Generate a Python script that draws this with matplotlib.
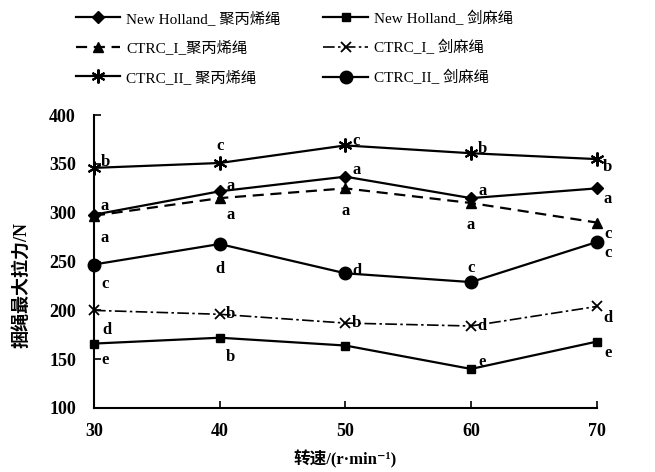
import matplotlib
matplotlib.use('Agg')
from matplotlib import pyplot as plt

# dados
rotacao = [30, 40, 50, 60, 70]

nh_pp = [298, 322, 337, 315, 325]
ctrc1_pp = [297, 315, 325, 310, 290]
ctrc2_pp = [346, 351, 369, 361, 355]
nh_sisal = [166, 172, 164, 140, 168]
ctrc1_sisal = [200, 196, 187, 184, 204]
ctrc2_sisal = [247, 268, 238, 229, 270]

letras_nh_pp = ['a', 'a', 'a', 'a', 'a']
letras_ctrc1_pp = ['a', 'a', 'a', 'a', 'c']
letras_ctrc2_pp = ['b', 'c', 'c', 'b', 'b']
letras_nh_sisal = ['e', 'b', '', 'e', 'e']
letras_ctrc1_sisal = ['d', 'b', 'b', 'd', 'd']
letras_ctrc2_sisal = ['c', 'd', 'd', 'c', 'c']

rotulos = ['New Holland_ 聚丙烯绳', 'CTRC_I_聚丙烯绳', 'CTRC_II_ 聚丙烯绳',
           'New Holland_ 剑麻绳', 'CTRC_I_ 剑麻绳', 'CTRC_II_ 剑麻绳']

plt.rcParams['font.family'] = ['Liberation Serif', 'Noto Sans CJK SC', 'DejaVu Serif']


def main():

	fig = plt.figure(figsize=(6.55, 4.72), dpi=100)
	ax = fig.add_axes([0.1435, 0.1356, 0.7675, 0.6204])

	l1, = ax.plot(rotacao, nh_pp, color='black', lw=1.6, marker='D', ms=6, clip_on=False)
	l2, = ax.plot(rotacao, ctrc1_pp, color='black', lw=1.6, ls=(0, (5, 3)), marker='^', ms=7, clip_on=False)
	l3, = ax.plot(rotacao, ctrc2_pp, color='black', lw=1.6, marker=(6, 2, 0), ms=10, mew=1.5, clip_on=False)
	l4, = ax.plot(rotacao, nh_sisal, color='black', lw=1.6, marker='s', ms=6, clip_on=False)
	l5, = ax.plot(rotacao, ctrc1_sisal, color='black', lw=1.2, ls=(0, (7, 2, 1.5, 2)), marker='x', ms=7, mew=1.3, clip_on=False)
	l6, = ax.plot(rotacao, ctrc2_sisal, color='black', lw=1.6, marker='o', ms=9, clip_on=False)

	# deslocamento das letras (pontos)
	desl_nh_pp = [(8, 6), (8, 4), (8, 5), (8, 5), (8, -8)]
	desl_ctrc1_pp = [(8, -16), (8, -12), (0, -16), (0, -16), (8, -8)]
	desl_ctrc2_pp = [(8, 4), (0, 12), (8, 3), (8, 3), (8, -6)]
	desl_nh_sisal = [(8, -12), (8, -14), (0, 0), (8, 5), (8, -8)]
	desl_ctrc1_sisal = [(9, -14), (8, 0), (8, 0), (8, 0), (8, -8)]
	desl_ctrc2_sisal = [(8, -14), (0, -18), (8, 2), (0, 10), (8, -8)]

	series = [
		(nh_pp, letras_nh_pp, desl_nh_pp),
		(ctrc1_pp, letras_ctrc1_pp, desl_ctrc1_pp),
		(ctrc2_pp, letras_ctrc2_pp, desl_ctrc2_pp),
		(nh_sisal, letras_nh_sisal, desl_nh_sisal),
		(ctrc1_sisal, letras_ctrc1_sisal, desl_ctrc1_sisal),
		(ctrc2_sisal, letras_ctrc2_sisal, desl_ctrc2_sisal),
	]

	for valores, letras, desl in series:
		for x, y, t, d in zip(rotacao, valores, letras, desl):
			if t:
				ax.annotate(t, (x, y), xytext=d, textcoords='offset points',
					ha='center', va='center', fontsize=12, fontweight='bold')

	ax.set_xlim(30, 70)
	ax.set_ylim(100, 400)
	ax.set_xticks(rotacao)
	ax.set_yticks(range(100, 401, 50))
	ax.spines['top'].set_visible(False)
	ax.spines['right'].set_visible(False)
	ax.spines['left'].set_linewidth(1.5)
	ax.spines['bottom'].set_linewidth(1.5)
	ax.tick_params(direction='in', length=5, width=1.2, labelsize=13)
	ax.tick_params(axis='y', pad=13)
	ax.tick_params(axis='x', pad=11)
	for lab in ax.get_xticklabels() + ax.get_yticklabels():
		lab.set_fontweight('bold')

	ax.set_xlabel('转速/(r·min⁻¹)', fontsize=12, fontweight='bold', labelpad=7)
	ax.set_ylabel('捆绳最大拉力/N', fontsize=13, fontweight='bold')
	ax.yaxis.set_label_coords(-0.124, 0.42)

	fig.legend([l1, l2, l3, l4, l5, l6], rotulos, ncol=2, loc='upper left',
		bbox_to_anchor=(0.095, 1.007), frameon=False, fontsize=11,
		handlelength=2.9, columnspacing=2.8, labelspacing=0.95, handletextpad=0.4)

	plt.savefig('out.png', dpi=100)

	pass


if __name__ == '__main__':
	main()
